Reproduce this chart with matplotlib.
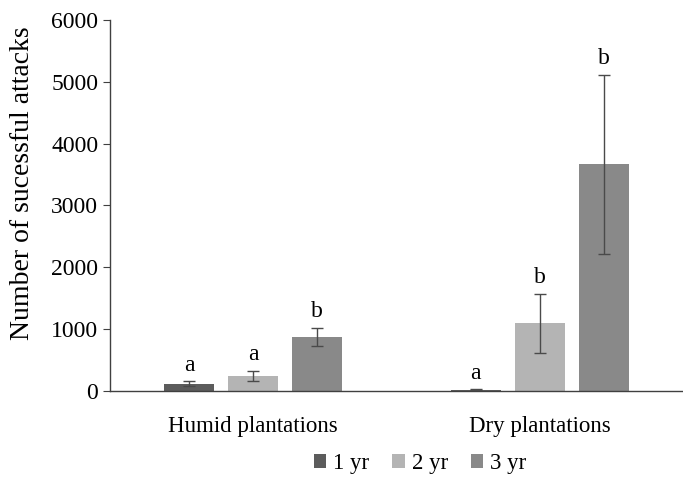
"""Grouped bar chart: successful attacks by plantation type and age."""

import matplotlib
matplotlib.use("Agg")
import matplotlib.pyplot as plt
import numpy as np

# Data
categories = ["Humid plantations", "Dry plantations"]
series_names = ["1 yr", "2 yr", "3 yr"]
means = {
    "1 yr": [120, 20],
    "2 yr": [245, 1095],
    "3 yr": [880, 3665],
}
errors = {
    "1 yr": [40, 10],
    "2 yr": [85, 480],
    "3 yr": [145, 1450],
}
letters = {
    "1 yr": ["a", "a"],
    "2 yr": ["a", "b"],
    "3 yr": ["b", "b"],
}
colors = {"1 yr": "#5c5c5c", "2 yr": "#b4b4b4", "3 yr": "#898989"}

plt.rcParams["font.family"] = ["Liberation Serif", "DejaVu Serif"]

fig = plt.figure(figsize=(6.83, 4.95), dpi=100)
ax = fig.add_axes([0.161, 0.21, 0.839, 0.75])

x = np.arange(len(categories))
width = 0.175
step = 0.223

for i, name in enumerate(series_names):
    pos = x + (i - 1) * step
    ax.bar(pos, means[name], width=width, color=colors[name], label=name, zorder=2)
    ax.errorbar(pos, means[name], yerr=errors[name], fmt="none",
                ecolor="#4a4a4a", elinewidth=1, capsize=4, capthick=1, zorder=3)
    for xp, m, e, t in zip(pos, means[name], errors[name], letters[name]):
        ax.text(xp, m + e + 90, t, ha="center", va="bottom", fontsize=17)

ax.set_xlim(-0.5, 1.5)
ax.set_ylim(0, 6000)
ax.set_yticks(range(0, 6001, 1000))
ax.set_xticks(x)
ax.set_xticklabels(categories)
ax.tick_params(axis="x", length=0, pad=18, labelsize=16.5)
ax.tick_params(axis="y", direction="out", length=5, labelsize=17, color="#404040")
ax.set_ylabel("Number of sucessful attacks", fontsize=20)
ax.yaxis.set_label_coords(-0.13, 0.56)

for side in ["top", "right"]:
    ax.spines[side].set_visible(False)
for side in ["left", "bottom"]:
    ax.spines[side].set_color("#404040")
    ax.spines[side].set_linewidth(1)

fig.legend(loc="lower center", bbox_to_anchor=(0.615, 0.0), ncol=3, frameon=False,
           fontsize=16.5, handlelength=0.55, handleheight=0.55, handletextpad=0.3,
           columnspacing=1.0)

fig.savefig("out.png", dpi=100)
plt.close(fig)
